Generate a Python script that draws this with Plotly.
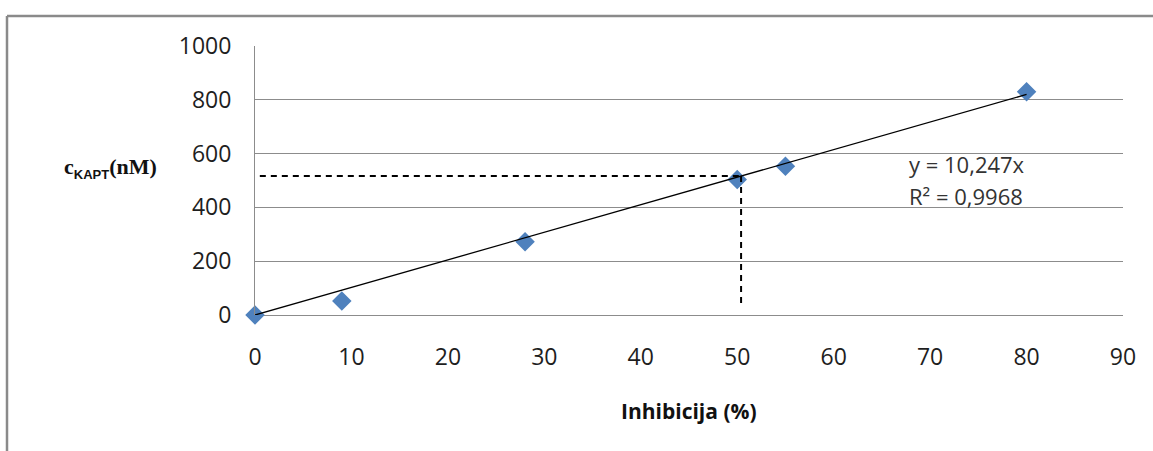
import plotly.graph_objects as go

# Measured points
inhibicija = [0, 9, 28, 50, 55, 80]
c_kapt = [0, 52, 272, 504, 553, 830]

# Linear fit through the origin
slope = 10.247
r_squared = 0.9968
fit_x = [0, 80]

# Reading at 50 % inhibition
ic50_x = 50.4
ic50_y = 517

x_ticks = [0, 10, 20, 30, 40, 50, 60, 70, 80, 90]
y_ticks = [0, 200, 400, 600, 800, 1000]

W, H = 1153, 451
L, R, T, B = 255, 30, 46, 136

fig = go.Figure()

fig.add_trace(go.Scatter(
    x=inhibicija, y=c_kapt, mode="markers", cliponaxis=False,
    marker=dict(symbol="diamond", size=15, color="#4F81BD", line=dict(width=0)),
    showlegend=False, hoverinfo="skip",
))

fig.add_trace(go.Scatter(
    x=fit_x, y=[slope * v for v in fit_x], mode="lines", cliponaxis=False,
    line=dict(color="#000000", width=1.3),
    showlegend=False, hoverinfo="skip",
))

# Dashed guides to the 50 % point
fig.add_trace(go.Scatter(
    x=[0.5, ic50_x], y=[ic50_y, ic50_y], mode="lines",
    line=dict(color="#000000", width=2, dash="6px,5px"),
    showlegend=False, hoverinfo="skip",
))
fig.add_trace(go.Scatter(
    x=[ic50_x, ic50_x], y=[ic50_y, 30], mode="lines",
    line=dict(color="#000000", width=2, dash="6px,5px"),
    showlegend=False, hoverinfo="skip",
))

tick_font = dict(family="Open Sans", size=23, color="#1E1E1E")

fig.update_xaxes(
    range=[0, 90], tickvals=x_ticks, ticktext=[str(v) for v in x_ticks],
    showgrid=False, zeroline=False, showline=False,
    ticks="", ticklen=0, tickfont=tick_font, automargin=False,
    ticklabelstandoff=26,
)
fig.update_yaxes(
    range=[0, 1000], tickvals=y_ticks, ticktext=[str(v) for v in y_ticks],
    showgrid=True, gridcolor="#8C8C8C", gridwidth=1,
    zeroline=True, zerolinecolor="#8C8C8C", zerolinewidth=1,
    showline=True, linecolor="#8C8C8C", linewidth=1,
    ticks="", ticklen=0, tickfont=tick_font, automargin=False,
    ticklabelstandoff=18,
)

pw = W - L - R
ph = H - T - B


def px(p):
    return (p - L) / pw


def py(q):
    return (H - B - q) / ph


eq_font = dict(family="Open Sans", size=22, color="#333333")

annotations = [
    dict(text="y = 10,247x", x=px(907), y=py(164),
         xref="paper", yref="paper", xanchor="left", yanchor="middle",
         showarrow=False, font=eq_font),
    dict(text="R² = 0,9968", x=px(907), y=py(196),
         xref="paper", yref="paper", xanchor="left", yanchor="middle",
         showarrow=False, font=eq_font),
    dict(text="Inhibicija (%)", x=px(689), y=py(411),
         xref="paper", yref="paper", xanchor="center", yanchor="middle",
         showarrow=False,
         font=dict(family="Open Sans", size=21, color="#111111", weight="bold")),
    dict(text="c<sub><span style='font-family:Liberation Sans;font-size:13px'>KAPT</span></sub>(nM)",
         x=px(159), y=py(168),
         xref="paper", yref="paper", xanchor="right", yanchor="middle",
         showarrow=False,
         font=dict(family="Liberation Serif", size=22, color="#111111", weight="bold")),
]

shapes = [
    dict(type="line", xref="paper", yref="paper",
         x0=px(7), x1=px(W + 5), y0=py(16), y1=py(16),
         line=dict(color="#8A8A8A", width=2.5)),
    dict(type="line", xref="paper", yref="paper",
         x0=px(7), x1=px(7), y0=py(16), y1=py(H + 5),
         line=dict(color="#8A8A8A", width=2.5)),
]

fig.update_layout(
    width=W, height=H,
    margin=dict(l=L, r=R, t=T, b=B, pad=0),
    paper_bgcolor="#FFFFFF", plot_bgcolor="#FFFFFF",
    annotations=annotations, shapes=shapes,
)

fig.write_html("out.html", config={"displayModeBar": False})
